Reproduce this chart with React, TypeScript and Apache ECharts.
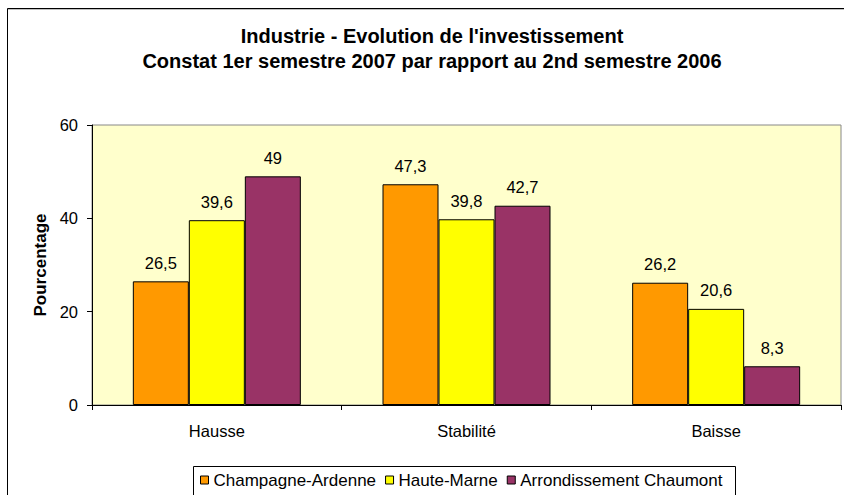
import React, { useEffect, useRef } from "react";
import * as echarts from "echarts";

const titleLines = [
  "Industrie - Evolution de l'investissement",
  "Constat 1er semestre 2007 par rapport au 2nd semestre 2006",
];
const categories = ["Hausse", "Stabilité", "Baisse"];
const seriesNames = ["Champagne-Ardenne", "Haute-Marne", "Arrondissement Chaumont"];
const champagneArdenne = [26.5, 47.3, 26.2];
const hauteMarne = [39.6, 39.8, 20.6];
const arrondissementChaumont = [49, 42.7, 8.3];
const seriesColors = ["#FF9900", "#FFFF00", "#993366"];
const yAxisName = "Pourcentage";
const yMin = 0;
const yMax = 60;
const yInterval = 20;

const FONT = "'Liberation Sans', Arial, sans-serif";

export default function App() {
  const ref = useRef<HTMLDivElement>(null);

  useEffect(() => {
    document.body.style.margin = "0";
    if (!ref.current) return;
    const chart = echarts.init(ref.current, undefined, { renderer: "svg" });
    const values = [champagneArdenne, hauteMarne, arrondissementChaumont];
    const fmt = (p: any) => String(p.value).replace(".", ",");

    chart.setOption({
      animation: false,
      backgroundColor: "#ffffff",
      textStyle: { fontFamily: FONT },
      title: {
        text: titleLines.join("\n"),
        left: 432,
        top: 23,
        textAlign: "center",
        padding: 0,
        textStyle: {
          fontFamily: FONT,
          fontSize: 20,
          fontWeight: "bold",
          color: "#000",
          lineHeight: 25,
        },
      },
      graphic: [
        {
          type: "rect",
          shape: { x: 193.5, y: 466.5, width: 542, height: 60 },
          style: { fill: "#fff", stroke: "#000", lineWidth: 1 },
          z: -1,
        },
        {
          type: "line",
          shape: { x1: 8, y1: 9.5, x2: 844, y2: 9.5 },
          style: { stroke: "#c0c0c0", lineWidth: 1 },
        },
        {
          type: "polyline",
          shape: { points: [[7.5, 495], [7.5, 8.5], [844, 8.5]] },
          style: { stroke: "#000", lineWidth: 1, fill: "none" },
        },
      ],
      legend: {
        data: seriesNames,
        left: 200,
        top: 471,
        padding: 0,
        itemGap: 9,
        itemWidth: 8,
        itemHeight: 8,
        icon: "rect",
        itemStyle: { borderColor: "#000", borderWidth: 1 },
        textStyle: { fontFamily: FONT, fontSize: 17, color: "#000", lineHeight: 18 },
      },
      grid: {
        left: 92,
        top: 125,
        right: 3,
        bottom: 90,
        show: true,
        backgroundColor: "#FFFFCC",
        borderColor: "#888888",
        borderWidth: 1,
        containLabel: false,
      },
      xAxis: {
        type: "category",
        data: categories,
        axisLine: { show: true, lineStyle: { color: "#000", width: 1 } },
        axisTick: { show: true, length: 5, inside: false, lineStyle: { color: "#000" } },
        axisLabel: {
          fontFamily: FONT,
          fontSize: 16.5,
          color: "#000",
          margin: 16.5,
          lineHeight: 18,
        },
        splitLine: { show: false },
      },
      yAxis: {
        type: "value",
        min: yMin,
        max: yMax,
        interval: yInterval,
        name: yAxisName,
        nameLocation: "middle",
        nameGap: 42,
        nameTextStyle: {
          fontFamily: FONT,
          fontSize: 17,
          fontWeight: "bold",
          color: "#000",
        },
        axisLine: { show: true, lineStyle: { color: "#000", width: 1 } },
        axisTick: { show: true, length: 5, inside: false, lineStyle: { color: "#000" } },
        axisLabel: { fontFamily: FONT, fontSize: 16.5, color: "#000", margin: 14 },
        splitLine: { show: false },
      },
      series: seriesNames.map((name, i) => ({
        name,
        type: "bar",
        data: values[i],
        barWidth: 56,
        barGap: "0%",
        itemStyle: { color: seriesColors[i], borderColor: "#000", borderWidth: 1 },
        label: {
          show: true,
          position: "top",
          distance: 10,
          formatter: fmt,
          fontFamily: FONT,
          fontSize: 16.5,
          color: "#000",
        },
      })),
    });

    return () => chart.dispose();
  }, []);

  return <div ref={ref} style={{ width: 844, height: 495 }} />;
}
